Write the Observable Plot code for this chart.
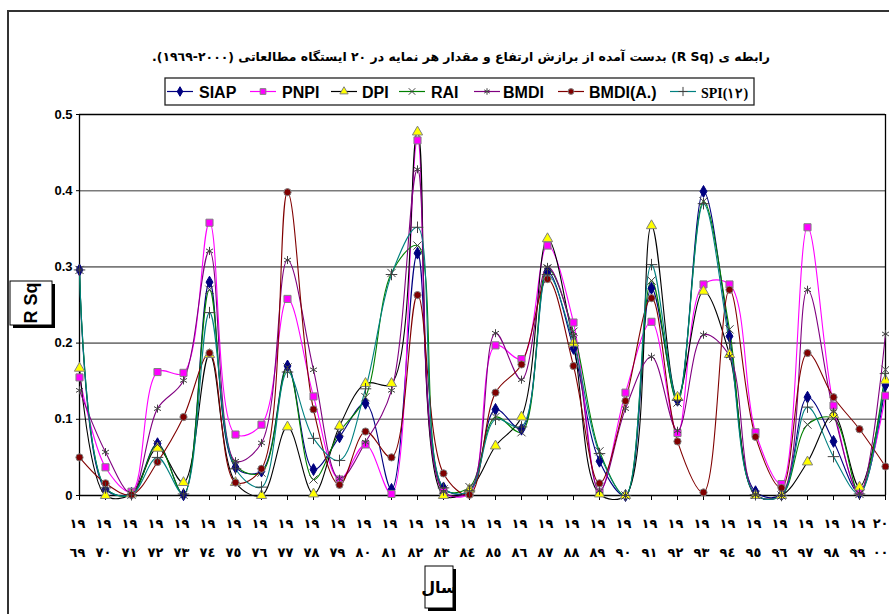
<!DOCTYPE html>
<html>
<head>
<meta charset="utf-8">
<script src="https://cdn.jsdelivr.net/npm/d3@7"></script>
<script src="https://cdn.jsdelivr.net/npm/@observablehq/plot@0.6"></script>
<style>
  html, body { margin: 0; padding: 0; background: white; }
  #chart { width: 889px; height: 614px; overflow: hidden; }
</style>
</head>
<body>
<div id="chart"></div>
<script>
// ---- data ----
const years = [1969,1970,1971,1972,1973,1974,1975,1976,1977,1978,1979,1980,1981,1982,1983,1984,
               1985,1986,1987,1988,1989,1990,1991,1992,1993,1994,1995,1996,1997,1998,1999,2000];
const tickRow1 = ["١٩","١٩","١٩","١٩","١٩","١٩","١٩","١٩","١٩","١٩","١٩","١٩","١٩","١٩","١٩","١٩",
                  "١٩","١٩","١٩","١٩","١٩","١٩","١٩","١٩","١٩","١٩","١٩","١٩","١٩","١٩","١٩","٢٠"];
const tickRow2 = ["٦٩","٧٠","٧١","٧٢","٧٣","٧٤","٧٥","٧٦","٧٧","٧٨","٧٩","٨٠","٨١","٨٢","٨٣","٨٤",
                  "٨٥","٨٦","٨٧","٨٨","٨٩","٩٠","٩١","٩٢","٩٣","٩٤","٩٥","٩٦","٩٧","٩٨","٩٩","٠٠"];
const yTicks = [0, 0.1, 0.2, 0.3, 0.4, 0.5];

const SIAP = [0.296,0.008,0.003,0.068,0.001,0.280,0.037,0.032,0.170,0.034,0.077,0.121,0.008,0.318,0.010,0.005,
              0.113,0.087,0.294,0.193,0.045,0.000,0.272,0.125,0.399,0.209,0.005,0.001,0.129,0.071,0.003,0.145];
const PNPI = [0.155,0.037,0.005,0.162,0.161,0.358,0.080,0.093,0.258,0.130,0.021,0.067,0.002,0.466,0.005,0.003,
              0.197,0.179,0.328,0.227,0.005,0.135,0.228,0.082,0.277,0.277,0.083,0.015,0.352,0.118,0.005,0.131];
const DPI  = [0.167,0.000,0.002,0.062,0.017,0.185,0.017,0.000,0.090,0.002,0.091,0.147,0.147,0.477,0.000,0.008,
              0.065,0.103,0.337,0.200,0.002,0.000,0.354,0.129,0.268,0.185,0.000,0.000,0.044,0.106,0.011,0.151];
const RAI  = [0.296,0.010,0.001,0.067,0.001,0.270,0.040,0.030,0.168,0.021,0.083,0.129,0.292,0.328,0.008,0.011,
              0.103,0.083,0.298,0.215,0.058,0.000,0.282,0.122,0.386,0.218,0.001,0.000,0.093,0.101,0.002,0.165];
const BMDI = [0.138,0.057,0.003,0.114,0.151,0.321,0.045,0.069,0.309,0.165,0.022,0.070,0.138,0.428,0.005,0.005,
              0.213,0.152,0.300,0.210,0.006,0.114,0.182,0.085,0.211,0.183,0.001,0.001,0.270,0.110,0.003,0.212];
const BMDIA = [0.050,0.016,0.001,0.044,0.103,0.187,0.017,0.035,0.398,0.113,0.014,0.084,0.050,0.263,0.029,0.001,
               0.135,0.172,0.284,0.170,0.016,0.124,0.259,0.071,0.004,0.270,0.077,0.010,0.187,0.129,0.087,0.038];
const SPI12 = [0.296,0.010,0.001,0.050,0.002,0.240,0.035,0.011,0.162,0.075,0.046,0.140,0.290,0.352,0.010,0.006,
               0.100,0.090,0.290,0.200,0.055,0.000,0.303,0.125,0.383,0.200,0.001,0.000,0.116,0.051,0.002,0.160];

const seriesNames = ["SIAP","PNPI","DPI","RAI","BMDI","BMDI(A.)","SPI(١٢)"];
const seriesValues = [SIAP, PNPI, DPI, RAI, BMDI, BMDIA, SPI12];

// ---- styles ----
const styles = {
  "SIAP":     {line:"#000080", symbol:"diamond",  fill:"#000080", stroke:"#000080", r:3.6},
  "PNPI":     {line:"#FF00FF", symbol:"square",   fill:"#FF00FF", stroke:"#808080", r:4},
  "DPI":      {line:"#000000", symbol:"triangle", fill:"#FFFF00", stroke:"#808080", r:3.8},
  "RAI":      {line:"#008000", symbol:"times",    fill:"none",    stroke:"#404040", r:3.8},
  "BMDI":     {line:"#800080", symbol:"asterisk", fill:"none",    stroke:"#404040", r:3.8},
  "BMDI(A.)": {line:"#800000", symbol:"circle",   fill:"#800000", stroke:"#808080", r:3.6},
  "SPI(١٢)":  {line:"#008080", symbol:"plus",     fill:"none",    stroke:"#404040", r:3.8}
};

const table = [];
seriesNames.forEach((s, k) => {
  years.forEach((yr, i) => table.push({series: s, year: yr, value: seriesValues[k][i]}));
});

const lineMarks = seriesNames.map(s => Plot.line(table.filter(d => d.series === s), {
  x: "year", y: "value", stroke: styles[s].line, strokeWidth: 1.1, curve: "catmull-rom"
}));
const dotMarks = seriesNames.map(s => Plot.dot(table.filter(d => d.series === s), {
  x: "year", y: "value", symbol: () => styles[s].symbol, r: styles[s].r,
  fill: styles[s].fill, stroke: styles[s].stroke, strokeWidth: 1
}));

const arabicFont = "'DejaVu Sans', sans-serif";
const lastYear = years[years.length - 1];

const plot = Plot.plot({
  width: 889,
  height: 614,
  marginLeft: 79,
  marginRight: 4,
  marginTop: 114,
  marginBottom: 119,
  style: {background: "white", fontFamily: "'Liberation Sans', Arial, sans-serif", color: "black"},
  x: {type: "linear", domain: [1969, 2000]},
  symbol: {type: "identity"},
  y: {domain: [0, 0.5]},
  marks: [
    Plot.gridY([0.1, 0.2, 0.3, 0.4], {stroke: "#7a7a7a", strokeOpacity: 1, strokeWidth: 1.6}),
    Plot.ruleY([0.5], {stroke: "black", strokeWidth: 1.3}),
    Plot.ruleX([2000], {stroke: "black", strokeWidth: 1.3}),
    Plot.axisY({ticks: yTicks, tickFormat: d => String(d), tickSize: 3, tickPadding: 4,
                fontWeight: "bold", fontSize: 13, label: null}),
    Plot.axisX({ticks: years, tickSize: 5, tickFormat: () => "", label: null}),
    Plot.ruleX([1969], {stroke: "black", strokeWidth: 1.3}),
    Plot.ruleY([0], {stroke: "black", strokeWidth: 1.3}),
    Plot.text(years.slice(0, -1), {x: d => d, frameAnchor: "bottom", dy: 32, dx: -2, text: (d, i) => tickRow1[i],
                      fontFamily: arabicFont, fontWeight: "bold", fontSize: 13}),
    Plot.text(years.slice(0, -1), {x: d => d, frameAnchor: "bottom", dy: 61, dx: -2, text: (d, i) => tickRow2[i],
                      fontFamily: arabicFont, fontWeight: "bold", fontSize: 13}),
    Plot.text([lastYear], {x: d => d, frameAnchor: "bottom", dy: 32, dx: 3, textAnchor: "end",
                      text: () => tickRow1[tickRow1.length - 1], fontFamily: arabicFont, fontWeight: "bold", fontSize: 13}),
    Plot.text([lastYear], {x: d => d, frameAnchor: "bottom", dy: 61, dx: 3, textAnchor: "end",
                      text: () => tickRow2[tickRow2.length - 1], fontFamily: arabicFont, fontWeight: "bold", fontSize: 13}),
    ...lineMarks,
    ...dotMarks
  ]
});

document.getElementById("chart").appendChild(plot);

// ---- overlays: frame, title, legend, axis label boxes ----
const svg = d3.select(plot);
const ns = svg.append("g").attr("text-anchor", "start");

ns.append("path").attr("d", "M8,614V11H889").attr("fill", "none").attr("stroke", "#333").attr("stroke-width", 2);

ns.append("text")
  .attr("x", 461).attr("y", 61)
  .attr("text-anchor", "middle")
  .attr("direction", "rtl")
  .attr("font-family", arabicFont)
  .attr("font-weight", "bold")
  .attr("font-size", 12.45)
  .text("رابطه ی (R Sq) بدست آمده از برازش ارتفاع و مقدار هر نمایه در ٢٠ ایستگاه مطالعاتی (٢٠٠٠-١٩٦٩).");

// legend
ns.append("rect").attr("x", 165).attr("y", 78).attr("width", 589).attr("height", 27)
  .attr("fill", "white").attr("stroke", "#222").attr("stroke-width", 1.3);
const legendPos = [180, 263, 344, 412, 487, 571, 683];
const legendTextX = [199, 282, 362, 431, 503, 589, 701];
const symMap = {diamond: d3.symbolDiamond, square: d3.symbolSquare, triangle: d3.symbolTriangle,
                times: d3.symbolTimes, asterisk: d3.symbolAsterisk, circle: d3.symbolCircle, plus: d3.symbolPlus};
seriesNames.forEach((s, k) => {
  const st = styles[s];
  const cx = legendPos[k], cy = 91.5;
  ns.append("line").attr("x1", cx - 13).attr("x2", cx + 13).attr("y1", cy).attr("y2", cy)
    .attr("stroke", st.line).attr("stroke-width", 1.2);
  ns.append("path").attr("transform", `translate(${cx},${cy})`)
    .attr("d", d3.symbol(symMap[st.symbol], Math.PI * st.r * st.r * 0.65)())
    .attr("fill", st.fill).attr("stroke", st.stroke).attr("stroke-width", 1);
  const t = ns.append("text").attr("x", legendTextX[k]).attr("y", cy + 6)
    .attr("text-anchor", "start").attr("fill", "black").text(s);
  if (k === 6) {
    t.attr("font-family", "'Liberation Serif', 'Times New Roman', serif").attr("font-weight", "bold").attr("font-size", 14);
  } else {
    t.attr("font-family", "'Liberation Sans', Arial, sans-serif").attr("font-weight", "bold").attr("font-size", 16);
  }
});

// y label box
ns.append("rect").attr("x", 13).attr("y", 284).attr("width", 42).attr("height", 44).attr("fill", "black");
ns.append("rect").attr("x", 10).attr("y", 281).attr("width", 42).attr("height", 44)
  .attr("fill", "white").attr("stroke", "black").attr("stroke-width", 1);
ns.append("text").attr("transform", "translate(31,303) rotate(-90)")
  .attr("text-anchor", "middle").attr("dy", "0.36em")
  .attr("font-family", "'Liberation Sans', Arial, sans-serif").attr("font-weight", "bold").attr("font-size", 18)
  .text("R Sq");

// x label box
ns.append("rect").attr("x", 428).attr("y", 569).attr("width", 28).attr("height", 42).attr("fill", "black");
ns.append("rect").attr("x", 425).attr("y", 566).attr("width", 28).attr("height", 42)
  .attr("fill", "white").attr("stroke", "black").attr("stroke-width", 1);
ns.append("text").attr("x", 439).attr("y", 587).attr("dy", "0.36em")
  .attr("text-anchor", "middle").attr("direction", "rtl")
  .attr("font-family", arabicFont).attr("font-weight", "bold").attr("font-size", 16)
  .text("سال");
</script>
</body>
</html>
